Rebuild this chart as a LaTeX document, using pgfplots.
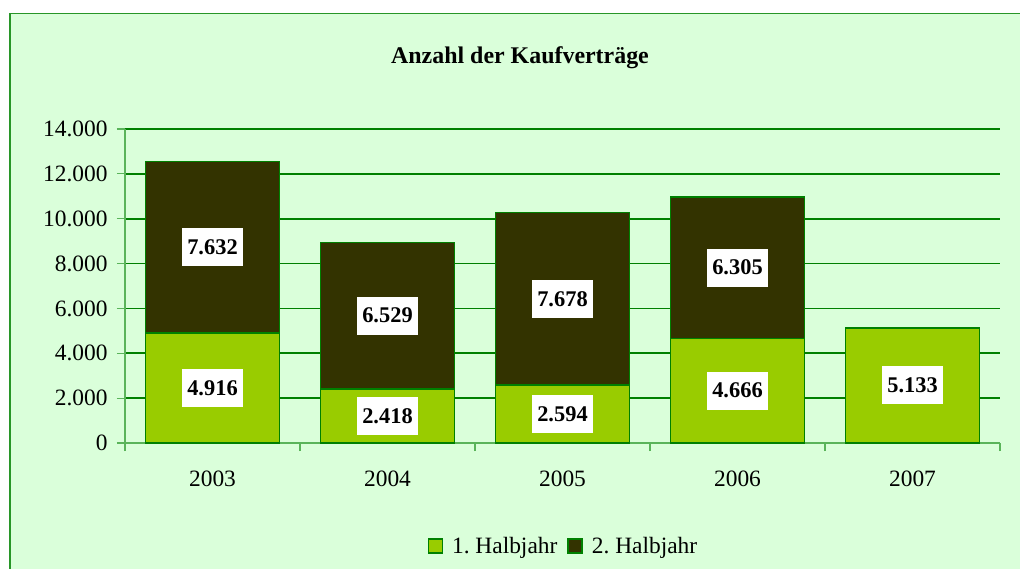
\documentclass[border=0pt]{standalone}
\usepackage{fontspec}
\setmainfont{Liberation Serif}
\usepackage{pgfplots}
\usepackage{pgfplotstable}
\pgfplotsset{compat=1.18}
\definecolor{bg}{RGB}{218,255,218}
\definecolor{frameg}{RGB}{40,150,40}
\definecolor{gridg}{RGB}{0,128,0}
\definecolor{axisg}{RGB}{90,180,90}
\definecolor{lightbar}{RGB}{153,204,0}
\definecolor{darkbar}{RGB}{51,51,0}

\pgfplotstableread{
x h1
0 4916
1 2418
2 2594
3 4666
4 5133
}\firsthalf
\pgfplotstableread{
x h2
0 7632
1 6529
2 7678
3 6305
}\secondhalf
\pgfplotstableread{
x y label
0 2458 4.916
0 8732 7.632
1 1209 2.418
1 5682.5 6.529
2 1297 2.594
2 6433 7.678
3 2333 4.666
3 7818.5 6.305
4 2566.5 5.133
}\labels

\begin{document}
\frenchspacing
\begin{tikzpicture}
\useasboundingbox (0,0) rectangle (1020bp,569bp);
\fill[white] (0,0) rectangle (1020bp,569bp);
\fill[bg] (10bp,-5bp) rectangle (1030bp,555.5bp);
\draw[frameg, line width=1.3bp] (10bp,-5bp) -- (10bp,555.5bp) -- (1030bp,555.5bp);
\node[font=\fontsize{24}{28}\selectfont\bfseries] at (520bp,511bp) {Anzahl der Kaufverträge};
\begin{axis}[
  at={(125bp,126bp)}, anchor=south west,
  scale only axis, width=875bp, height=314bp,
  xmin=-0.5, xmax=4.5, ymin=0, ymax=14000,
  ybar stacked, bar width=134bp,
  xtick={0,1,2,3,4}, xticklabels={2003,2004,2005,2006,2007},
  major x tick style={draw=none},
  minor xtick={-0.5,0.5,1.5,2.5,3.5,4.5},
  minor x tick style={axisg, line width=1.2bp},
  minor tick length=8bp,
  ytick={0,2000,...,14000},
  major tick length=8bp,
  ytick style={axisg, line width=1.2bp},
  tick align=outside,
  xtick pos=bottom, ytick pos=left,
  ymajorgrids, major grid style={gridg, line width=1.8bp},
  axis x line*=bottom, axis y line*=left,
  axis line style={axisg, line width=1.2bp, -},
  scaled y ticks=false,
  yticklabel style={xshift=-6bp, /pgf/number format/.cd, fixed, precision=0, 1000 sep={.}},
  /pgf/number format/assume math mode=true,
  tick label style={font=\fontsize{23.5}{26}\selectfont},
  xticklabel style={yshift=-16bp},
  legend style={at={(0.501,-0.328)}, anchor=center, legend columns=2, draw=none, fill=none,
    font=\fontsize{23.5}{26}\selectfont,
    /tikz/every odd column/.append style={column sep=7bp},
    /tikz/every even column/.append style={column sep=8bp}},
  legend image code/.code={\draw[#1, draw=gridg, line width=1.5bp] (0bp,-7bp) rectangle (14bp,7bp);},
  clip=false,
]
\addplot[fill=lightbar, draw=gridg, line width=1.6bp] table[x=x, y=h1] {\firsthalf};
\addlegendentry{1. Halbjahr}
\addplot[fill=darkbar, draw=gridg, line width=1.6bp] table[x=x, y=h2] {\secondhalf};
\addlegendentry{2. Halbjahr}
\end{axis}
\begin{axis}[
  at={(125bp,126bp)}, anchor=south west,
  scale only axis, width=875bp, height=314bp,
  xmin=-0.5, xmax=4.5, ymin=0, ymax=14000,
  hide axis, clip=false,
]
\addplot[only marks, mark=none, nodes near coords, point meta=explicit symbolic,
  every node near coord/.style={anchor=center, fill=white, inner sep=0pt,
    minimum width=61bp, minimum height=38bp,
    font=\fontsize{22.5}{26}\selectfont\bfseries, text=black}]
  table[x=x, y=y, meta=label] {\labels};
\end{axis}
\end{tikzpicture}
\end{document}
